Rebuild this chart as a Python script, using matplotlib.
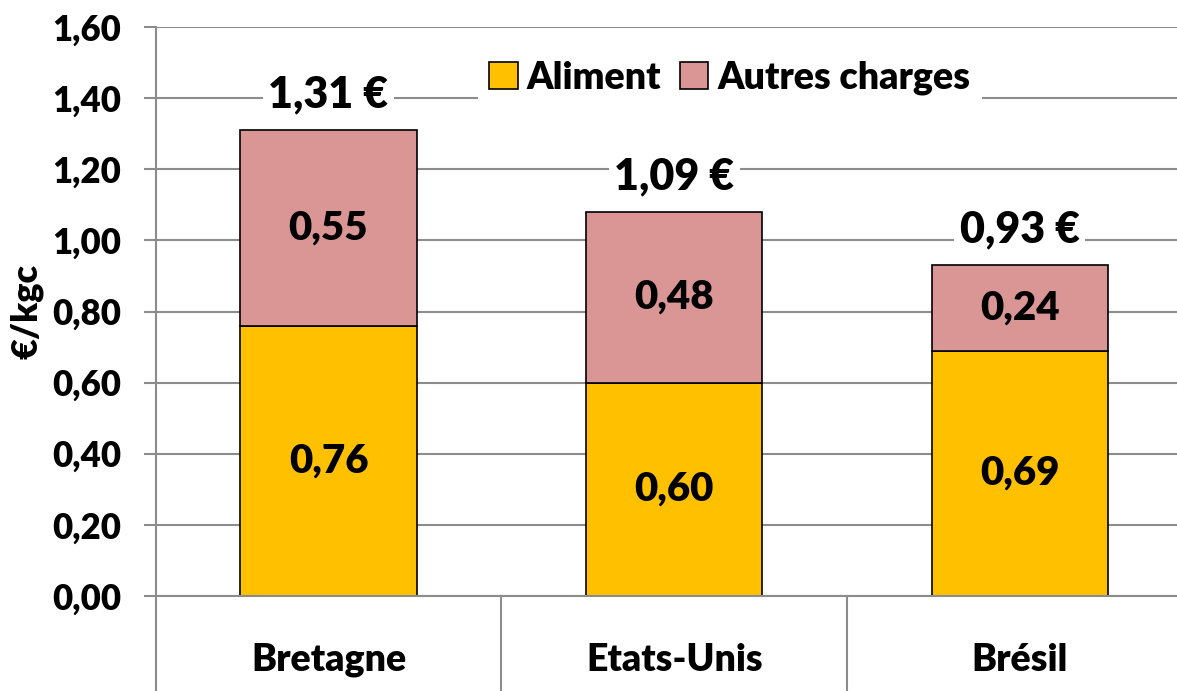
import matplotlib.pyplot as plt
import numpy as np

plt.rcParams['font.family'] = ['Lato', 'DejaVu Sans']
plt.rcParams['font.weight'] = 'bold'

pays = ['Bretagne', 'Etats-Unis', 'Brésil']
aliment = [0.76, 0.60, 0.69]
autres = [0.55, 0.48, 0.24]
totaux = [1.31, 1.09, 0.93]
yticks = [0, 0.2, 0.4, 0.6, 0.8, 1.0, 1.2, 1.4, 1.6]

fig = plt.figure(figsize=(11.77, 6.91), dpi=100)
ax = fig.add_axes([155.7/1177, 1-596/691, 1037/1177, 569/691])

x = np.arange(len(pays))
w = 0.51
ax.bar(x, aliment, w, color='#FFC000', edgecolor='black', lw=1.2, label='Aliment', zorder=3)
ax.bar(x, autres, w, bottom=aliment, color='#D99694', edgecolor='black', lw=1.2,
       label='Autres charges', zorder=3)

fmt = lambda v: ('%.2f' % v).replace('.', ',')
for i in range(len(pays)):
    ax.text(x[i], aliment[i]/2, fmt(aliment[i]), ha='center', va='center', fontsize=29,
            fontweight='heavy', zorder=4)
    ax.text(x[i], aliment[i] + autres[i]/2, fmt(autres[i]), ha='center', va='center',
            fontsize=29, fontweight='heavy', zorder=4)
    ax.text(x[i], aliment[i] + autres[i] + 0.10, fmt(totaux[i]) + ' €', ha='center',
            va='center', fontsize=31, fontweight='heavy', zorder=5,
            bbox=dict(facecolor='white', edgecolor='none', pad=4))

ax.set_xlim(-0.5, 2.5)
ax.set_ylim(0, 1.6)
ax.set_yticks(yticks)
ax.set_yticklabels([fmt(v) for v in yticks], fontsize=25, fontweight='heavy')
ax.set_xticks([])
ax.yaxis.grid(True, color='#8C8C8C', lw=1.5, zorder=0)
ax.tick_params(axis='y', length=9, width=1.5, color='#8C8C8C', pad=16)
for s in ['top', 'right']:
    ax.spines[s].set_visible(False)
for s in ['left', 'bottom']:
    ax.spines[s].set_color('#8C8C8C')
    ax.spines[s].set_linewidth(1.5)
ax.spines['bottom'].set_zorder(4)

# séparateurs de catégories sous l'axe
for xs in [-0.5, 0.5, 1.5]:
    ax.plot([xs, xs], [0, -0.27], color='#8C8C8C', lw=1.5, clip_on=False)
for i, p in enumerate(pays):
    ax.text(x[i], -0.18, p, ha='center', va='center', fontsize=27, fontweight='heavy')

ax.set_ylabel('€/kgc', fontsize=26, fontweight='heavy', labelpad=6)

leg = ax.legend(loc='center', ncol=2, prop=dict(size=27, weight='heavy'), frameon=True,
                handlelength=0.75, handleheight=0.75, handletextpad=0.25,
                columnspacing=0.5, borderpad=0.3)
leg.set_bbox_to_anchor((730/1177, 1-78/691), transform=fig.transFigure)
leg.get_frame().set_facecolor('white')
leg.get_frame().set_edgecolor('none')
leg.get_frame().set_alpha(1)
leg.set_zorder(6)

plt.savefig('out.png', dpi=100)
